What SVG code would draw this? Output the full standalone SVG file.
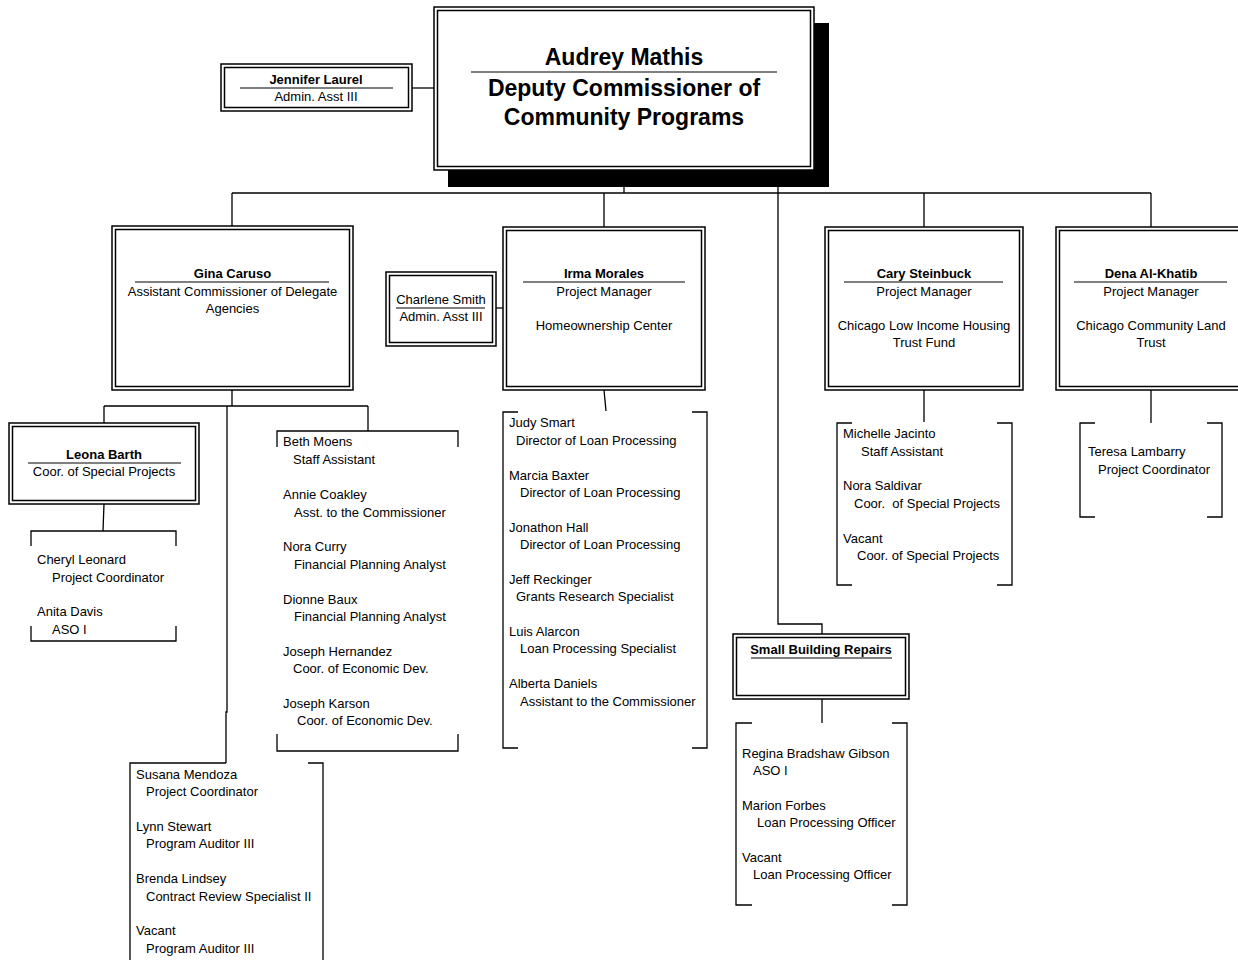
<svg xmlns="http://www.w3.org/2000/svg" width="1238" height="960" viewBox="0 0 1238 960">
  <style>
    .box { fill: #fff; stroke: #000; stroke-width: 1.5; }
    .inner { fill: none; stroke: #000; stroke-width: 1.5; }
    .rule { stroke: #000; stroke-width: 1.2; }
    .wire { fill: none; stroke: #000; stroke-width: 1.3; }
    text { font-family: "Liberation Sans", Arial, sans-serif; fill: #000; }
    .t { font-size: 23px; font-weight: bold; text-anchor: middle; }
    .n { font-size: 13px; font-weight: bold; text-anchor: middle; }
    .c { font-size: 13px; text-anchor: middle; }
    .l { font-size: 13px; white-space: pre; }
  </style>

  <!-- connectors -->
  <g id="connectors" class="wire">
    <path d="M624,170 V193"/>
    <path d="M232,193 H1151"/>
    <path d="M232,193 V226 M604,193 V227 M924,193 V227 M1151,193 V227"/>
    <path d="M778,187 V624 H822 V634"/>
    <path d="M412,88 H434"/>
    <path d="M496,308 H503"/>
    <path d="M232,390 V406 M104,406 H368 M104,406 V423 M368,406 V431"/>
    <path d="M227,406 V712 H226 V763"/>
    <path d="M104,504 L103,531"/>
    <path d="M604,390 L606,411"/>
    <path d="M924,390 V422"/>
    <path d="M1151,390 V423"/>
    <path d="M822,699 V723"/>
    <!-- brackets round staff lists -->
    <path d="M31,546 V531 H176 V546 M31,626 V641 H176 V626"/>
    <path d="M277,447 V431 H458 V447 M277,734 V751 H458 V734"/>
    <path d="M130,960 V763 H226 M308,763 H323 V960"/>
    <path d="M518,412 H503 V748 H518 M692,412 H707 V748 H692"/>
    <path d="M852,423 H837 V585 H852 M997,423 H1012 V585 H997"/>
    <path d="M1095,423 H1080 V517 H1095 M1207,423 H1222 V517 H1207"/>
    <path d="M752,723 H736 V905 H752 M892,723 H907 V905 H892"/>
  </g>

  <!-- deputy commissioner -->
  <g id="audrey-mathis">
    <rect x="448" y="23" width="381" height="164" fill="#000"/>
    <rect class="box" x="434" y="7" width="380" height="163"/>
    <rect class="inner" x="437.5" y="10.5" width="373" height="156"/>
    <text class="t" x="624" y="65">Audrey Mathis</text>
    <line class="rule" x1="471" y1="72" x2="777" y2="72"/>
    <text class="t" x="624" y="96">Deputy Commissioner of</text>
    <text class="t" x="624" y="125">Community Programs</text>
  </g>

  <g id="jennifer-laurel">
    <rect class="box" x="221" y="64" width="191" height="47"/>
    <rect class="inner" x="224.5" y="67.5" width="184" height="40"/>
    <text class="n" x="316" y="84">Jennifer Laurel</text>
    <line class="rule" x1="240" y1="88" x2="393" y2="88"/>
    <text class="c" x="316" y="101">Admin. Asst III</text>
  </g>

  <g id="gina-caruso">
    <rect class="box" x="112" y="226" width="241" height="164"/>
    <rect class="inner" x="115.5" y="229.5" width="234" height="157"/>
    <text class="n" x="232.5" y="278">Gina Caruso</text>
    <line class="rule" x1="135" y1="282" x2="329" y2="282"/>
    <text class="c" x="232.5" y="296">Assistant Commissioner of Delegate</text>
    <text class="c" x="232.5" y="313">Agencies</text>
  </g>

  <g id="charlene-smith">
    <rect class="box" x="386" y="272" width="110" height="74"/>
    <rect class="inner" x="389.5" y="275.5" width="103" height="67"/>
    <text class="c" x="441" y="304">Charlene Smith</text>
    <line class="rule" x1="396" y1="308" x2="485" y2="308"/>
    <text class="c" x="441" y="321">Admin. Asst III</text>
  </g>

  <g id="irma-morales">
    <rect class="box" x="503" y="227" width="202" height="163"/>
    <rect class="inner" x="506.5" y="230.5" width="195" height="156"/>
    <text class="n" x="604" y="278">Irma Morales</text>
    <line class="rule" x1="523" y1="282" x2="685" y2="282"/>
    <text class="c" x="604" y="296">Project Manager</text>
    <text class="c" x="604" y="330">Homeownership Center</text>
  </g>

  <g id="cary-steinbuck">
    <rect class="box" x="825" y="227" width="198" height="163"/>
    <rect class="inner" x="828.5" y="230.5" width="191" height="156"/>
    <text class="n" x="924" y="278">Cary Steinbuck</text>
    <line class="rule" x1="844" y1="282" x2="1003" y2="282"/>
    <text class="c" x="924" y="296">Project Manager</text>
    <text class="c" x="924" y="330">Chicago Low Income Housing</text>
    <text class="c" x="924" y="347">Trust Fund</text>
  </g>

  <g id="dena-al-khatib">
    <rect class="box" x="1056" y="227" width="190" height="163"/>
    <rect class="inner" x="1059.5" y="230.5" width="183" height="156"/>
    <text class="n" x="1151" y="278">Dena Al-Khatib</text>
    <line class="rule" x1="1074" y1="282" x2="1227" y2="282"/>
    <text class="c" x="1151" y="296">Project Manager</text>
    <text class="c" x="1151" y="330">Chicago Community Land</text>
    <text class="c" x="1151" y="347">Trust</text>
  </g>

  <g id="leona-barth">
    <rect class="box" x="9" y="423" width="190" height="81"/>
    <rect class="inner" x="12.5" y="426.5" width="183" height="74"/>
    <text class="n" x="104" y="459">Leona Barth</text>
    <line class="rule" x1="28" y1="463" x2="181" y2="463"/>
    <text class="c" x="104" y="476">Coor. of Special Projects</text>
  </g>

  <g id="small-building-repairs">
    <rect class="box" x="733" y="634" width="176" height="65"/>
    <rect class="inner" x="736.5" y="637.5" width="169" height="58"/>
    <text class="n" x="821" y="654">Small Building Repairs</text>
    <line class="rule" x1="751" y1="658" x2="892" y2="658"/>
  </g>

  <!-- staff lists -->
  <g id="leona-staff" class="l-group">
    <text class="l" x="37" y="564">Cheryl Leonard</text>
    <text class="l" x="52" y="582">Project Coordinator</text>
    <text class="l" x="37" y="616">Anita Davis</text>
    <text class="l" x="52" y="634">ASO I</text>
  </g>

  <g id="gina-staff">
    <text class="l" x="283" y="446">Beth Moens</text>
    <text class="l" x="293" y="464">Staff Assistant</text>
    <text class="l" x="283" y="499">Annie Coakley</text>
    <text class="l" x="294" y="517">Asst. to the Commissioner</text>
    <text class="l" x="283" y="551">Nora Curry</text>
    <text class="l" x="294" y="569">Financial Planning Analyst</text>
    <text class="l" x="283" y="604">Dionne Baux</text>
    <text class="l" x="294" y="621">Financial Planning Analyst</text>
    <text class="l" x="283" y="656">Joseph Hernandez</text>
    <text class="l" x="293" y="673">Coor. of Economic Dev.</text>
    <text class="l" x="283" y="708">Joseph Karson</text>
    <text class="l" x="297" y="725">Coor. of Economic Dev.</text>
  </g>

  <g id="gina-audit-staff">
    <text class="l" x="136" y="779">Susana Mendoza</text>
    <text class="l" x="146" y="796">Project Coordinator</text>
    <text class="l" x="136" y="831">Lynn Stewart</text>
    <text class="l" x="146" y="848">Program Auditor III</text>
    <text class="l" x="136" y="883">Brenda Lindsey</text>
    <text class="l" x="146" y="901">Contract Review Specialist II</text>
    <text class="l" x="136" y="935">Vacant</text>
    <text class="l" x="146" y="953">Program Auditor III</text>
  </g>

  <g id="irma-staff">
    <text class="l" x="509" y="427">Judy Smart</text>
    <text class="l" x="516" y="445">Director of Loan Processing</text>
    <text class="l" x="509" y="480">Marcia Baxter</text>
    <text class="l" x="520" y="497">Director of Loan Processing</text>
    <text class="l" x="509" y="532">Jonathon Hall</text>
    <text class="l" x="520" y="549">Director of Loan Processing</text>
    <text class="l" x="509" y="584">Jeff Reckinger</text>
    <text class="l" x="516" y="601">Grants Research Specialist</text>
    <text class="l" x="509" y="636">Luis Alarcon</text>
    <text class="l" x="520" y="653">Loan Processing Specialist</text>
    <text class="l" x="509" y="688">Alberta Daniels</text>
    <text class="l" x="520" y="706">Assistant to the Commissioner</text>
  </g>

  <g id="cary-staff">
    <text class="l" x="843" y="438">Michelle Jacinto</text>
    <text class="l" x="861" y="456">Staff Assistant</text>
    <text class="l" x="843" y="490">Nora Saldivar</text>
    <text class="l" x="854" y="508">Coor.  of Special Projects</text>
    <text class="l" x="843" y="543">Vacant</text>
    <text class="l" x="857" y="560">Coor. of Special Projects</text>
  </g>

  <g id="dena-staff">
    <text class="l" x="1088" y="456">Teresa Lambarry</text>
    <text class="l" x="1098" y="474">Project Coordinator</text>
  </g>

  <g id="repairs-staff">
    <text class="l" x="742" y="758">Regina Bradshaw Gibson</text>
    <text class="l" x="753" y="775">ASO I</text>
    <text class="l" x="742" y="810">Marion Forbes</text>
    <text class="l" x="757" y="827">Loan Processing Officer</text>
    <text class="l" x="742" y="862">Vacant</text>
    <text class="l" x="753" y="879">Loan Processing Officer</text>
  </g>
</svg>
